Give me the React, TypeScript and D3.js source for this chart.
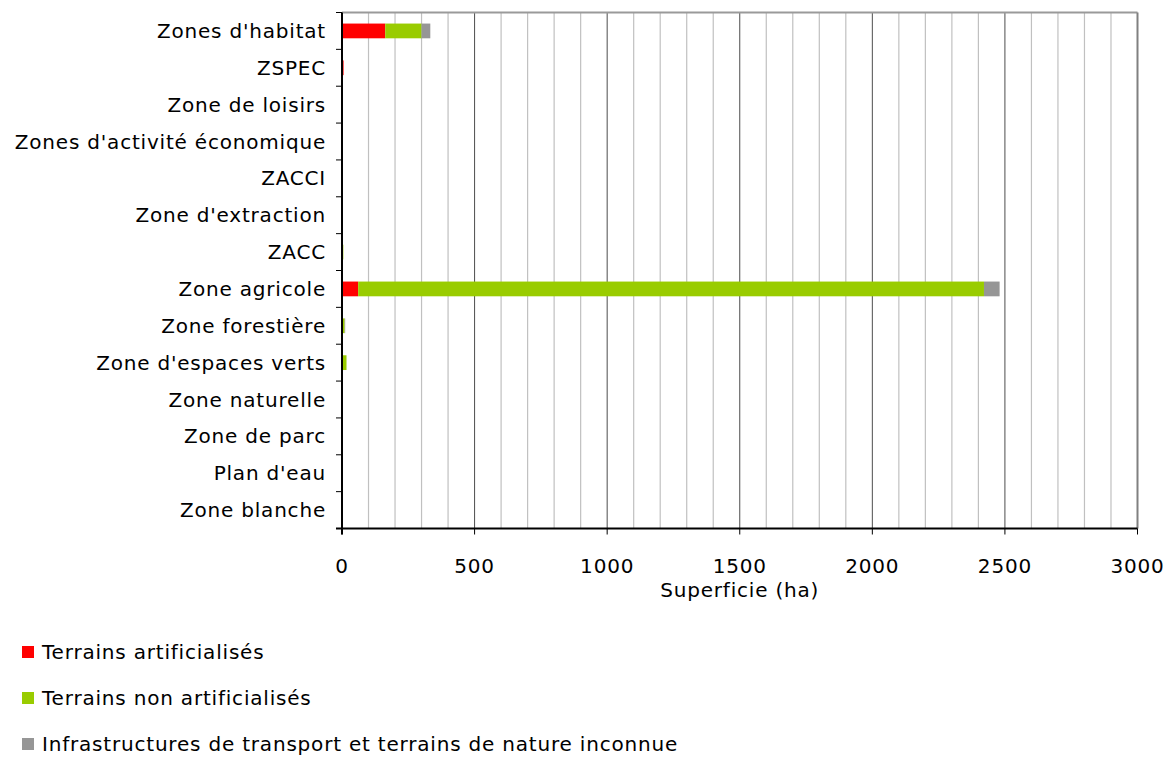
import React from 'react'
import * as d3 from 'd3'

const categories = [
  "Zones d'habitat",
  'ZSPEC',
  'Zone de loisirs',
  "Zones d'activité économique",
  'ZACCI',
  "Zone d'extraction",
  'ZACC',
  'Zone agricole',
  'Zone forestière',
  "Zone d'espaces verts",
  'Zone naturelle',
  'Zone de parc',
  "Plan d'eau",
  'Zone blanche',
]

const artificialises = [163, 6, 0, 0, 0, 0, 1, 61, 0, 0, 0, 0, 0, 0]
const nonArtificialises = [137, 0, 0, 0, 0, 0, 4, 2360, 10, 17, 0, 0, 0, 0]
const infrastructures = [33, 0, 0, 0, 0, 0, 0, 59, 2, 0, 0, 0, 0, 0]

const seriesNames = [
  'Terrains artificialisés',
  'Terrains non artificialisés',
  'Infrastructures de transport et terrains de nature inconnue',
]
const seriesColors = ['#ff0000', '#99cc00', '#969696']
const xTicks = [0, 500, 1000, 1500, 2000, 2500, 3000]

const FONT = 'Verdana, "DejaVu Sans", sans-serif'
const FS = 20
const LS = 0.8

export default function App() {
  const width = 1165
  const height = 758
  const left = 342
  const right = 1137.5
  const top = 12.5
  const bottom = 528.5

  const x = d3.scaleLinear().domain([0, 3000]).range([left, right])
  const y = d3.scaleBand<string>().domain(categories).range([top, bottom]).paddingInner(0.6).paddingOuter(0.3)
  const band = d3.scaleBand<string>().domain(categories).range([top, bottom])

  const rows = categories.map((c, i) => ({
    cat: c,
    vals: [artificialises[i], nonArtificialises[i], infrastructures[i]],
  }))
  const stack = d3.stack<any>().keys(['0', '1', '2']).value((d, k) => d.vals[+k])
  const layers = stack(rows)

  const minor = d3.range(100, 3000, 100).filter(v => v % 500 !== 0)

  return (
    <svg width={width} height={height} style={{ position: 'absolute', left: 0, top: 0 }} fontFamily={FONT}>
      <rect width={width} height={height} fill="#fff" />
      {minor.map(v => (
        <line key={'m' + v} x1={x(v)} x2={x(v)} y1={top} y2={bottom} stroke="#c0c0c0" strokeWidth={1.2} />
      ))}
      {xTicks.slice(1, -1).map(v => (
        <line key={'M' + v} x1={x(v)} x2={x(v)} y1={top} y2={bottom} stroke="#4d4d4d" strokeWidth={1} />
      ))}
      <line x1={left} x2={right} y1={top} y2={top} stroke="#9a9a9a" strokeWidth={2} />
      <line x1={right} x2={right} y1={top} y2={bottom} stroke="#808080" strokeWidth={2} />

      {layers.map((layer, si) => (
        <g key={si}>
          {layer.map((d, i) => {
            const w = x(d[1]) - x(d[0])
            if (w <= 0) return null
            return (
              <rect key={i} x={x(d[0])} y={y(categories[i])} width={w} height={y.bandwidth()} fill={seriesColors[si]} />
            )
          })}
        </g>
      ))}

      <line x1={left} x2={left} y1={top} y2={bottom + 6} stroke="#000" strokeWidth={2} />
      <line x1={left - 6} x2={right} y1={bottom} y2={bottom} stroke="#000" strokeWidth={2} />
      {categories.map(c => (
        <line key={'t' + c} x1={left - 6} x2={left} y1={band(c)} y2={band(c)} stroke="#000" strokeWidth={1} />
      ))}
      {xTicks.map(v => (
        <line key={'xt' + v} x1={x(v)} x2={x(v)} y1={bottom} y2={bottom + 6} stroke="#000" strokeWidth={1} />
      ))}

      <g fontSize={FS} letterSpacing={LS} fill="#000">
        {categories.map(c => (
          <text key={'l' + c} x={326} y={band(c)! + band.bandwidth() / 2} dy="0.35em" textAnchor="end">
            {c}
          </text>
        ))}
        {xTicks.map(v => (
          <text key={'xl' + v} x={x(v)} y={566} dy="0.35em" textAnchor="middle">
            {v}
          </text>
        ))}
        <text x={(left + right) / 2} y={590} dy="0.35em" textAnchor="middle">
          Superficie (ha)
        </text>

        {seriesNames.map((n, i) => (
          <g key={'lg' + i} transform={`translate(22, ${652 + i * 46})`}>
            <rect x={0} y={-6} width={12} height={12} fill={seriesColors[i]} />
            <text x={20} y={0} dy="0.35em">
              {n}
            </text>
          </g>
        ))}
      </g>
    </svg>
  )
}
